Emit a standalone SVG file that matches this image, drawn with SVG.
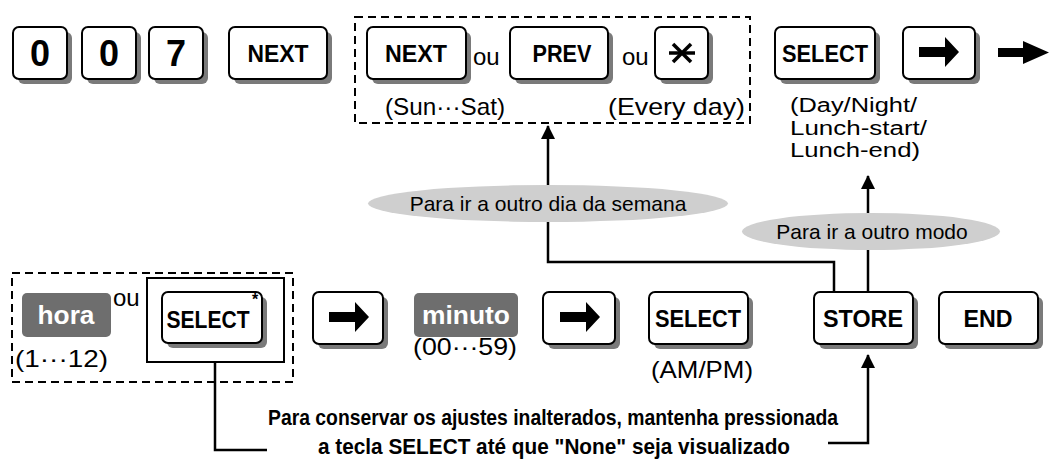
<svg xmlns="http://www.w3.org/2000/svg" width="1050" height="462" viewBox="0 0 1050 462">
<style>
.sh{fill:#7a7a7a}
.key{fill:#fff;stroke:#000;stroke-width:2}
.kt{font-family:"Liberation Sans",Arial,sans-serif;font-weight:bold;font-size:23px;text-anchor:middle;fill:#000}
.dg{font-size:36px}
.t{font-family:"Liberation Sans",Arial,sans-serif;font-size:21px;fill:#000}
.a{font-size:24px}
.m{font-size:20px}
.gl{fill:#6e6e6e}
.wt{font-family:"Liberation Sans",Arial,sans-serif;font-weight:bold;font-size:25px;fill:#fff;text-anchor:middle}
.dash{fill:none;stroke:#000;stroke-width:2;stroke-dasharray:8 5}
.ln{fill:none;stroke:#000;stroke-width:2.5}
.ell{fill:#cfcfcf}
.bt{font-family:"Liberation Sans",Arial,sans-serif;font-weight:bold;font-size:22px;fill:#000;text-anchor:middle}
</style>
<defs>
<path id="arr" d="M-20,-5 H6 V-15 L20,0 L6,15 V5 H-20 Z" fill="#000"/>
<marker id="ah" markerWidth="14" markerHeight="18" refX="13" refY="7" orient="auto" markerUnits="userSpaceOnUse" viewBox="0 0 14 14">
<path d="M0,0 L14,7 L0,14 Z" fill="#000"/>
</marker>
</defs>

<!-- dashed groups -->
<rect class="dash" x="355" y="17" width="395" height="106"/>
<rect class="dash" x="12" y="273" width="281" height="109"/>
<rect x="147" y="278" width="137" height="84" fill="none" stroke="#000" stroke-width="2"/>

<g id="connectors">
<polyline class="ln" points="834,292 834,262 548,262 548,126" marker-end="url(#ah)"/>
<polyline class="ln" points="868,292 868,176" marker-end="url(#ah)"/>
<polyline class="ln" points="215,362 215,450 267,450"/>
<polyline class="ln" points="828,443 868,443 868,355" marker-end="url(#ah)"/>
</g>

<g id="lbl-semana">
<ellipse class="ell" cx="548" cy="203.5" rx="180" ry="18.5"/>
<text class="t" x="548" y="211" text-anchor="middle">Para ir a outro dia da semana</text>
</g>
<g id="lbl-modo">
<ellipse class="ell" cx="871" cy="231.5" rx="129" ry="18.5"/>
<text class="t" x="872" y="239" text-anchor="middle">Para ir a outro modo</text>
</g>

<g id="k0a"><rect class="sh" x="18" y="32" width="54" height="52" rx="6"/><rect class="key" x="13" y="27" width="54" height="52" rx="6"/><text class="kt dg" x="40" y="66">0</text></g>
<g id="k0b"><rect class="sh" x="87" y="32" width="54" height="52" rx="6"/><rect class="key" x="82" y="27" width="54" height="52" rx="6"/><text class="kt dg" x="109" y="66">0</text></g>
<g id="k7"><rect class="sh" x="154" y="32" width="54" height="52" rx="6"/><rect class="key" x="149" y="27" width="54" height="52" rx="6"/><text class="kt dg" x="176" y="66">7</text></g>
<g id="knext1"><rect class="sh" x="234" y="32" width="98" height="52" rx="6"/><rect class="key" x="229" y="27" width="98" height="52" rx="6"/><text class="kt" x="278" y="62" textLength="61" lengthAdjust="spacingAndGlyphs">NEXT</text></g>

<g id="knext2"><rect class="sh" x="372" y="32" width="99" height="52" rx="6"/><rect class="key" x="367" y="27" width="99" height="52" rx="6"/><text class="kt" x="416" y="62" textLength="62" lengthAdjust="spacingAndGlyphs">NEXT</text></g>
<text class="t a" x="473" y="65">ou</text>
<g id="kprev"><rect class="sh" x="515" y="32" width="98" height="52" rx="6"/><rect class="key" x="510" y="27" width="98" height="52" rx="6"/><text class="kt" x="562" y="62" textLength="59" lengthAdjust="spacingAndGlyphs">PREV</text></g>
<text class="t a" x="622" y="65">ou</text>
<g id="kstar"><rect class="sh" x="660" y="32" width="53" height="52" rx="6"/><rect class="key" x="655" y="27" width="53" height="52" rx="6"/>
<g stroke="#000" stroke-width="3.5"><line x1="669" y1="53" x2="695" y2="53"/><line x1="673" y1="44" x2="691" y2="62"/><line x1="691" y1="44" x2="673" y2="62"/></g></g>
<text class="t a" x="385" y="115" textLength="120" lengthAdjust="spacingAndGlyphs">(Sun···Sat)</text>
<text class="t a" x="608" y="115" textLength="137" lengthAdjust="spacingAndGlyphs">(Every day)</text>

<g id="kselect1"><rect class="sh" x="780" y="32" width="100" height="52" rx="6"/><rect class="key" x="775" y="27" width="100" height="52" rx="6"/><text class="kt" x="825" y="62" textLength="86" lengthAdjust="spacingAndGlyphs">SELECT</text></g>
<g id="karrow1"><rect class="sh" x="908" y="32" width="72" height="52" rx="6"/><rect class="key" x="903" y="27" width="72" height="52" rx="6"/><use href="#arr" transform="translate(939,52)"/></g>
<g id="bigarrow"><path d="M998,48 H1023 V41 L1049,52.5 L1023,64 V57 H998 Z" fill="#000"/></g>
<text class="t m" x="790" y="112" textLength="127" lengthAdjust="spacingAndGlyphs">(Day/Night/</text>
<text class="t m" x="790" y="135" textLength="137" lengthAdjust="spacingAndGlyphs">Lunch-start/</text>
<text class="t m" x="790" y="157" textLength="130" lengthAdjust="spacingAndGlyphs">Lunch-end)</text>

<g id="hora"><rect class="gl" x="22" y="293" width="89" height="44" rx="5"/><text class="wt" x="66" y="324" textLength="57" lengthAdjust="spacingAndGlyphs">hora</text></g>
<text class="t a" x="113" y="306">ou</text>
<text class="t a" x="15" y="367" textLength="93" lengthAdjust="spacingAndGlyphs">(1···12)</text>
<g id="kselect2"><rect class="sh" x="167" y="297" width="100" height="51" rx="6"/><rect class="key" x="162" y="292" width="100" height="51" rx="6"/><text class="kt" x="208" y="328" textLength="83" lengthAdjust="spacingAndGlyphs">SELECT</text>
<text x="255" y="305" font-family="Liberation Sans,Arial,sans-serif" font-size="16" font-weight="bold" text-anchor="middle">*</text></g>

<g id="karrow2"><rect class="sh" x="318" y="297" width="70" height="52" rx="6"/><rect class="key" x="313" y="292" width="70" height="52" rx="6"/><use href="#arr" transform="translate(349,317)"/></g>
<g id="minuto"><rect class="gl" x="414" y="293" width="104" height="44" rx="5"/><text class="wt" x="466" y="324" textLength="88" lengthAdjust="spacingAndGlyphs">minuto</text></g>
<text class="t a" x="413" y="355" textLength="104" lengthAdjust="spacingAndGlyphs">(00···59)</text>
<g id="karrow3"><rect class="sh" x="548" y="297" width="72" height="52" rx="6"/><rect class="key" x="543" y="292" width="72" height="52" rx="6"/><use href="#arr" transform="translate(580,317)"/></g>
<g id="kselect3"><rect class="sh" x="654" y="297" width="99" height="52" rx="6"/><rect class="key" x="649" y="292" width="99" height="52" rx="6"/><text class="kt" x="698" y="327" textLength="86" lengthAdjust="spacingAndGlyphs">SELECT</text></g>
<text class="t a" x="651" y="378" textLength="102" lengthAdjust="spacingAndGlyphs">(AM/PM)</text>
<g id="kstore"><rect class="sh" x="819" y="297" width="99" height="52" rx="6"/><rect class="key" x="814" y="292" width="99" height="52" rx="6"/><text class="kt" x="863" y="327" textLength="80" lengthAdjust="spacingAndGlyphs">STORE</text></g>
<g id="kend"><rect class="sh" x="944" y="297" width="99" height="52" rx="6"/><rect class="key" x="939" y="292" width="99" height="52" rx="6"/><text class="kt" x="988" y="327" textLength="49" lengthAdjust="spacingAndGlyphs">END</text></g>

<text class="bt" x="553" y="425" textLength="570" lengthAdjust="spacingAndGlyphs">Para conservar os ajustes inalterados, mantenha pressionada</text>
<text class="bt" x="554" y="454" textLength="472" lengthAdjust="spacingAndGlyphs">a tecla SELECT até que "None" seja visualizado</text>
</svg>
